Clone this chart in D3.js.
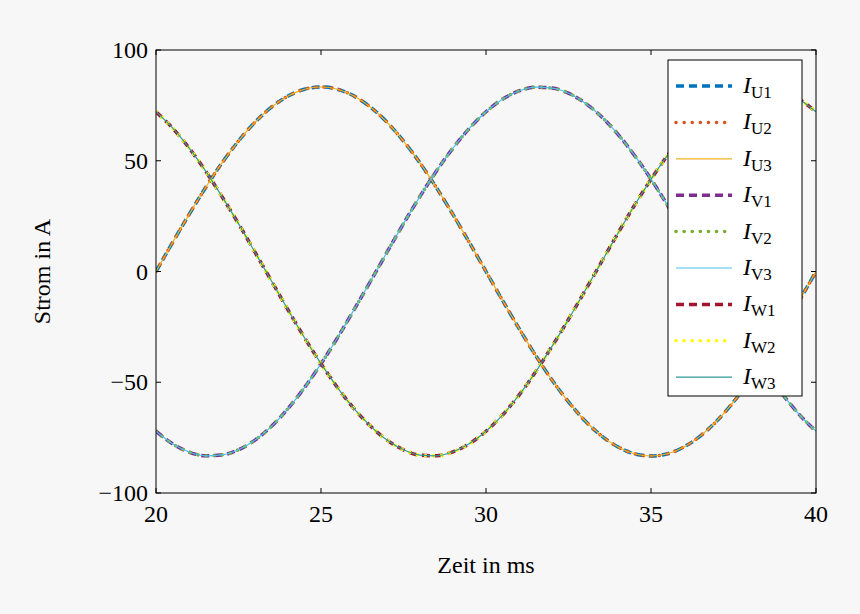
<!DOCTYPE html>
<html><head><meta charset="utf-8">
<script src="https://cdn.jsdelivr.net/npm/d3@7"></script>
<style>body{margin:0;background:#f7f7f7}svg{font-family:"Liberation Serif","Times New Roman",serif}</style>
</head><body><svg id="c" width="860" height="614"></svg>
<script>
const time = d3.range(41).map(i => 20 + i * 0.5);
const phaseU = [0,13.0,25.7,37.8,49.0,58.9,67.4,74.2,79.2,82.3,83.3,82.3,79.2,74.2,67.4,58.9,49.0,37.8,25.7,13.0,0,-13.0,-25.7,-37.8,-49.0,-58.9,-67.4,-74.2,-79.2,-82.3,-83.3,-82.3,-79.2,-74.2,-67.4,-58.9,-49.0,-37.8,-25.7,-13.0,0];
const phaseV = [-72.1,-77.8,-81.5,-83.2,-82.8,-80.5,-76.1,-69.9,-61.9,-52.4,-41.7,-29.9,-17.3,-4.4,8.7,21.6,33.9,45.4,55.7,64.7,72.1,77.8,81.5,83.2,82.8,80.5,76.1,69.9,61.9,52.4,41.7,29.9,17.3,4.4,-8.7,-21.6,-33.9,-45.4,-55.7,-64.7,-72.1];
const phaseW = [72.1,64.8,55.8,45.4,33.8,21.6,8.7,-4.3,-17.3,-29.9,-41.6,-52.4,-61.9,-69.8,-76.1,-80.5,-82.9,-83.2,-81.4,-77.7,-72.1,-64.8,-55.8,-45.4,-33.8,-21.6,-8.7,4.3,17.3,29.9,41.6,52.4,61.9,69.8,76.1,80.5,82.9,83.2,81.4,77.7,72.1];
const xTicks = [20,25,30,35,40];
const yTicks = [-100,-50,0,50,100];
const series = [
 {p:"U",n:"1",v:phaseU,c:"#0072bd",s:"dash"},
 {p:"U",n:"2",v:phaseU,c:"#d95319",s:"dot"},
 {p:"U",n:"3",v:phaseU,c:"#edb120",s:"solid"},
 {p:"V",n:"1",v:phaseV,c:"#7e2f8e",s:"dash"},
 {p:"V",n:"2",v:phaseV,c:"#77ac30",s:"dot"},
 {p:"V",n:"3",v:phaseV,c:"#4dbeee",s:"solid"},
 {p:"W",n:"1",v:phaseW,c:"#a2142f",s:"dash"},
 {p:"W",n:"2",v:phaseW,c:"#ffff00",s:"dot"},
 {p:"W",n:"3",v:phaseW,c:"#2f9a9a",s:"solid"}
];
const st = {dash:{w:3.5,d:"8,5"},dot:{w:3.5,d:"0.1,8",cap:"round"},solid:{w:1.2,d:null}};
const svg = d3.select("#c");
const L=156,R=816,T=50,B=493;
const x = d3.scaleLinear().domain([20,40]).range([L,R]);
const y = d3.scaleLinear().domain([-100,100]).range([B,T]);
svg.append("clipPath").attr("id","cp").append("rect").attr("x",L).attr("y",T).attr("width",R-L).attr("height",B-T);
const line = d3.line().x((d,i)=>x(time[i])).y(d=>y(d)).curve(d3.curveMonotoneX);
const g = svg.append("g").attr("clip-path","url(#cp)");
series.forEach(s=>{
  const k=st[s.s];
  g.append("path").attr("d",line(s.v)).attr("fill","none").attr("stroke",s.c)
   .attr("stroke-width",k.w).attr("stroke-dasharray",k.d).attr("stroke-linecap",k.cap||"butt");
});
svg.append("rect").attr("x",L).attr("y",T).attr("width",R-L).attr("height",B-T).attr("fill","none").attr("stroke","#000");
const fmt = v => v<0 ? "\u2212"+(-v) : ""+v;
xTicks.forEach(t=>{
  svg.append("line").attr("x1",x(t)).attr("x2",x(t)).attr("y1",B).attr("y2",B-5).attr("stroke","#000");
  svg.append("line").attr("x1",x(t)).attr("x2",x(t)).attr("y1",T).attr("y2",T+5).attr("stroke","#000");
  svg.append("text").attr("x",x(t)).attr("y",B+29).attr("text-anchor","middle").attr("font-size",24).text(t);
});
yTicks.forEach(t=>{
  svg.append("line").attr("x1",L).attr("x2",L+5).attr("y1",y(t)).attr("y2",y(t)).attr("stroke","#000");
  svg.append("line").attr("x1",R).attr("x2",R-5).attr("y1",y(t)).attr("y2",y(t)).attr("stroke","#000");
  svg.append("text").attr("x",L-8).attr("y",y(t)+8).attr("text-anchor","end").attr("font-size",24).text(fmt(t));
});
svg.append("text").attr("x",(L+R)/2).attr("y",573).attr("text-anchor","middle").attr("font-size",24).text("Zeit in ms");
svg.append("text").attr("transform",`translate(50,${(T+B)/2}) rotate(-90)`).attr("text-anchor","middle").attr("font-size",24).text("Strom in A");
const lg = svg.append("g");
lg.append("rect").attr("x",668).attr("y",60).attr("width",134).attr("height",336).attr("fill","#fff").attr("stroke","#000");
series.forEach((s,i)=>{
  const yy=86+i*36.4, k=st[s.s];
  lg.append("line").attr("x1",676).attr("x2",732).attr("y1",yy).attr("y2",yy).attr("stroke",s.c)
    .attr("stroke-width",k.w).attr("stroke-dasharray",k.d).attr("stroke-linecap",k.cap||"butt");
  const t=lg.append("text").attr("x",743).attr("y",yy+7).attr("font-size",24);
  t.append("tspan").attr("font-style","italic").text("I");
  t.append("tspan").attr("font-size",17).attr("dy",5).text(s.p+s.n);
});
</script></body></html>
